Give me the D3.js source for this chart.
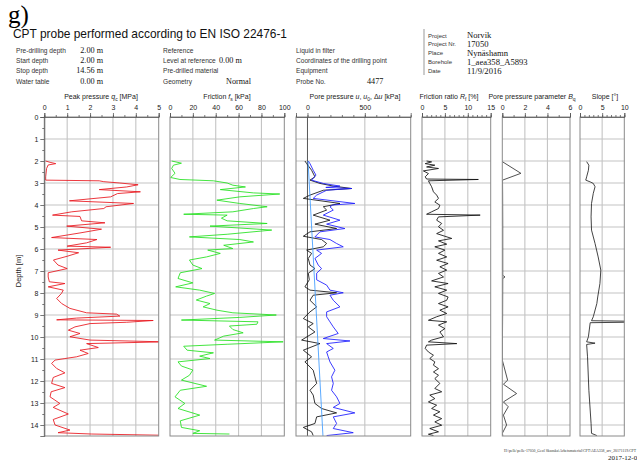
<!DOCTYPE html>
<html>
<head>
<meta charset="utf-8">
<script src="https://cdn.jsdelivr.net/npm/d3@7"></script>
<style>
  body { margin: 0; background: #fff; }
  svg { display: block; }
  .sans { font-family: "Liberation Sans", Arial, sans-serif; }
  .serif { font-family: "Liberation Serif", "Times New Roman", serif; }
  .axis text { font-family: "Liberation Sans", Arial, sans-serif; font-size: 7px; fill: #222; }
  .axis path, .axis line { stroke: #555; stroke-width: 0.8; }
</style>
</head>
<body>
<div id="chart"></div>
<script>
// ---- data (depth [m], value) ----
const qcProfile = [[2.0,0.06],[2.06,0.25],[2.12,0.5],[2.18,0.17],[2.34,0.1],[2.72,0.06],[2.87,0.06],[2.9,2.4],[2.94,2.6],[3.0,3.3],[3.08,4.1],[3.18,3.6],[3.3,2.4],[3.4,4.2],[3.48,3.2],[3.63,2.9],[3.81,1.1],[3.93,3.9],[4.08,2.7],[4.16,2.6],[4.31,1.2],[4.46,0.36],[4.52,1.56],[4.72,1.63],[4.81,2.65],[4.96,0.98],[5.1,2.5],[5.27,1.56],[5.48,0.32],[5.57,2.3],[5.72,1.85],[5.87,1.0],[5.92,2.9],[6.05,0.6],[6.17,1.5],[6.33,1.0],[6.5,0.4],[6.73,0.6],[6.89,1.0],[7.08,0.17],[7.27,0.17],[7.49,0.22],[7.57,0.9],[7.72,0.17],[7.87,0.83],[8.02,0.75],[8.25,0.54],[8.48,0.76],[8.7,1.12],[8.9,1.85],[8.96,3.16],[9.05,3.3],[9.14,1.41],[9.22,0.54],[9.25,4.76],[9.33,3.6],[9.39,2.0],[9.54,1.34],[9.69,1.05],[9.84,1.56],[9.99,1.12],[10.14,2.0],[10.22,5.2],[10.3,1.85],[10.48,2.36],[10.6,1.56],[10.75,1.92],[10.9,1.41],[10.98,0.9],[11.05,0.47],[11.2,0.32],[11.43,0.54],[11.63,0.9],[11.84,0.39],[12.11,0.32],[12.3,0.9],[12.49,0.3],[12.72,0.25],[13.02,0.68],[13.2,0.39],[13.5,1.05],[13.75,0.39],[14.0,0.47],[14.23,1.12],[14.35,0.6],[14.41,2.07],[14.47,5.4]];

const fsProfile = [[2.0,1.5],[2.1,10],[2.19,3],[2.34,1.5],[2.56,4.4],[2.75,0.6],[2.84,8.7],[2.9,38],[3.0,50],[3.1,55],[3.18,66],[3.3,44],[3.45,73],[3.5,96],[3.63,61],[3.78,41],[3.93,61],[4.08,85],[4.16,73],[4.31,55],[4.42,12],[4.46,50],[4.6,45],[4.72,50],[4.84,85],[4.96,35],[5.14,89],[5.33,50],[5.45,17],[5.57,61],[5.68,73],[5.83,47],[5.98,55],[6.05,33],[6.2,44],[6.36,32],[6.5,17],[6.73,20],[6.89,28],[7.08,9],[7.34,7],[7.54,20],[7.72,5],[7.87,26],[8.02,39],[8.14,32],[8.32,23],[8.48,35],[8.63,29],[8.78,41],[8.9,55],[9.0,93],[9.11,61],[9.23,10],[9.31,77],[9.42,76],[9.5,52],[9.66,55],[9.81,64],[9.96,47],[10.14,39],[10.22,99],[10.33,50],[10.42,12],[10.6,15],[10.72,38],[10.87,26],[10.98,35],[11.13,7],[11.32,10],[11.5,20],[11.74,17],[11.96,10],[12.24,32],[12.42,9],[12.72,4.4],[13.02,13],[13.25,7],[13.55,26],[13.81,9],[14.11,10],[14.26,26],[14.38,20],[14.41,52]];

const uProfile = [[2.0,7],[2.12,22],[2.42,50],[2.64,74],[2.87,36],[3.02,138],[3.14,283],[3.2,160],[3.25,385],[3.33,167],[3.55,80],[3.7,50],[3.93,413],[4.0,220],[4.08,196],[4.23,225],[4.46,138],[4.69,283],[4.87,167],[5.07,326],[5.22,109],[5.45,65],[5.57,196],[5.75,254],[5.9,312],[6.05,80],[6.2,123],[6.43,65],[6.73,94],[6.89,123],[7.1,80],[7.4,80],[7.64,167],[7.87,196],[7.99,312],[8.1,196],[8.33,225],[8.63,283],[8.86,167],[9.08,167],[9.31,196],[9.54,225],[9.84,268],[10.07,138],[10.18,370],[10.3,167],[10.52,225],[10.68,167],[10.9,181],[11.13,196],[11.51,239],[11.81,210],[12.11,225],[12.42,210],[12.72,254],[13.02,283],[13.2,225],[13.45,413],[13.63,225],[13.93,254],[14.16,225],[14.35,399],[14.48,167]];

const duProfile = [[2.0,-22],[2.12,-7],[2.42,36],[2.72,65],[2.87,22],[3.02,109],[3.14,225],[3.25,385],[3.33,138],[3.55,22],[3.7,-36],[3.93,283],[4.08,138],[4.23,167],[4.46,50],[4.69,196],[4.87,65],[5.07,254],[5.22,22],[5.42,-36],[5.57,123],[5.75,167],[5.9,138],[6.05,-7],[6.2,36],[6.43,7],[6.73,22],[6.89,65],[7.1,7],[7.4,16],[7.72,-22],[7.87,22],[7.99,254],[8.1,50],[8.33,22],[8.63,80],[8.86,22],[9.16,-36],[9.39,50],[9.54,7],[9.77,65],[10.14,-51],[10.3,109],[10.6,-36],[10.9,36],[11.13,-22],[11.51,50],[11.81,65],[12.11,80],[12.42,22],[12.64,50],[13.02,65],[13.25,123],[13.45,254],[13.63,80],[13.93,65],[14.11,-36],[14.31,36],[14.48,50]];

const u0Profile = [[2.0,5],[14.5,135]];

const rfProfile = [[2.0,1.0],[2.04,2.1],[2.12,0.7],[2.19,2.8],[2.27,1.0],[2.34,3.6],[2.45,0.3],[2.57,1.4],[2.72,0.7],[2.82,1.0],[2.84,12.3],[2.9,1.4],[3.02,1.7],[3.17,2.1],[3.4,2.5],[3.55,3.2],[3.7,3.6],[3.86,2.8],[4.01,3.9],[4.16,3.6],[4.31,2.1],[4.42,1.0],[4.46,12.7],[4.54,3.6],[4.69,3.2],[4.84,4.3],[4.99,3.6],[5.15,4.7],[5.3,3.2],[5.42,5.0],[5.52,6.5],[5.63,3.6],[5.78,5.4],[5.9,2.8],[6.05,5.0],[6.2,3.6],[6.36,5.4],[6.51,3.2],[6.66,5.7],[6.81,3.9],[6.96,5.4],[7.11,3.6],[7.27,4.7],[7.45,2.1],[7.57,5.7],[7.72,2.8],[7.87,5.4],[8.02,3.6],[8.18,5.7],[8.33,5.4],[8.48,3.6],[8.63,5.7],[8.78,3.9],[8.93,5.4],[9.08,3.2],[9.24,1.4],[9.31,5.4],[9.46,3.6],[9.62,5.0],[9.77,3.9],[9.99,4.7],[10.14,2.1],[10.22,1.4],[10.3,7.6],[10.37,1.0],[10.52,0.7],[10.68,1.4],[10.83,2.5],[10.98,1.7],[11.13,2.8],[11.28,2.5],[11.44,3.6],[11.59,2.5],[11.74,3.6],[11.89,2.8],[12.11,3.9],[12.34,2.8],[12.49,4.3],[12.64,1.7],[12.8,2.8],[12.95,1.4],[13.1,3.2],[13.25,2.1],[13.4,3.9],[13.55,2.5],[13.71,4.3],[13.86,2.8],[14.01,4.3],[14.16,1.7],[14.31,3.6],[14.42,1.4],[14.48,2.5]];

const bqProfile = [[2.0,0],[2.03,0],[2.56,1.65],[2.87,0.02],[3.5,0.03],[5.0,0.04],[7.2,0.04],[7.27,0.24],[7.34,0.04],[9.0,0.03],[11.05,0],[11.96,0.47],[12.15,0.1],[12.57,1.27],[12.95,0.1],[13.17,0.53],[13.55,0.1],[14.0,0.38],[14.38,0],[14.48,0.05]];

const slopeProfile = [[2.03,1.5],[2.19,2.0],[2.42,1.9],[2.72,1.5],[2.87,1.3],[2.95,2.3],[3.02,3.0],[3.17,3.4],[3.47,3.0],[3.93,2.6],[4.54,2.5],[5.14,2.6],[5.75,3.4],[6.36,4.1],[6.96,4.7],[7.57,4.5],[8.18,4.0],[8.48,3.8],[9.08,3.0],[9.26,2.6],[9.28,10.2],[9.33,10.2],[9.35,2.3],[9.99,1.9],[10.22,1.5],[10.28,3.4],[10.34,1.5],[10.9,1.7],[12.42,2.0],[13.93,2.5],[14.38,2.6],[14.48,3.8]];

// ---- tick labels ----
const depthTicks = [0,1,2,3,4,5,6,7,8,9,10,11,12,13,14];
const qcTicks = [0,1,2,3,4,5];
const fsTicks = [0,20,40,60,80,100];
const uTicks = [0,500];
const rfTicks = [0,5,10,15];
const bqTicks = [0,2,4,6];
const slopeTicks = [0,5,10];

const infoLeft = [["Pre-drilling depth","2.00 m"],["Start depth","2.00 m"],["Stop depth","14.56 m"],["Water table","0.00 m"]];
const infoMid = [["Reference",""],["Level at reference","0.00 m"],["Pre-drilled material",""],["Geometry","Normal"]];
const infoRight = [["Liquid in filter",""],["Coordinates of the drilling point",""],["Equipment",""],["Probe No.","4477"]];
const projectInfo = [["Project","Norvik"],["Project Nr.","17050"],["Place","Nynäshamn"],["Borehole","1_aea358_A5893"],["Date","11/9/2016"]];

const W = 637, H = 461;
const plotTop = 117, plotBottom = 436;

const svg = d3.select("#chart").append("svg")
    .attr("width", W).attr("height", H);

// header
svg.append("text").attr("class", "serif")
    .attr("x", 8).attr("y", 23).attr("font-size", 25).text("g)");
svg.append("text").attr("class", "sans")
    .attr("x", 13).attr("y", 38).attr("font-size", 13.5).attr("fill", "#111")
    .attr("textLength", 274).attr("lengthAdjust", "spacingAndGlyphs")
    .text("CPT probe performed according to EN ISO 22476-1");

function infoBlock(rows, xl, xv, anchor) {
    rows.forEach((r, i) => {
        const yy = 53 + i * 10.2;
        svg.append("text").attr("class", "sans").attr("x", xl).attr("y", yy)
            .attr("font-size", 6.6).attr("fill", "#333").text(r[0]);
        svg.append("text").attr("class", "serif")
            .attr("x", r[1] === "Normal" ? 251 : xv).attr("y", yy)
            .attr("font-size", 8.2).attr("text-anchor", r[1] === "Normal" ? "end" : anchor)
            .attr("fill", "#111").text(r[1]);
    });
}
infoBlock(infoLeft, 16, 103, "end");
infoBlock(infoMid, 163, 219, "start");
infoBlock(infoRight, 296, 367, "start");

svg.append("line").attr("x1", 424).attr("x2", 424).attr("y1", 29).attr("y2", 75)
    .attr("stroke", "#999").attr("stroke-width", 1);
projectInfo.forEach((r, i) => {
    const yy = 37.5 + i * 8.9;
    svg.append("text").attr("class", "sans").attr("x", 428).attr("y", yy)
        .attr("font-size", 6).attr("fill", "#333").text(r[0]);
    svg.append("text").attr("class", "serif").attr("x", 467).attr("y", yy + 0.5)
        .attr("font-size", 8.6).attr("fill", "#111").text(r[1]);
});

// depth scale shared by every panel
const y = d3.scaleLinear().domain([0, 14.5]).range([plotTop, plotBottom]);

const panels = [
    {x: [44.3, 158.7], domain: [0, 5], ticks: qcTicks, grid: [1,2,3,4], minorStep: 0.5,
     title: [["Peak pressure "], ["q", "i"], ["c", "sub"], [" [MPa]"]], tx: 101,
     series: [{data: qcProfile, color: "#e8141b"}]},
    {x: [170, 284.3], domain: [0, 100], ticks: fsTicks, grid: [20,40,60,80], minorStep: 10,
     title: [["Friction "], ["f", "i"], ["s", "sub"], [" [kPa]"]], tx: 227,
     series: [{data: fsProfile, color: "#22e01e"}]},
    {x: [296, 410.7], domain: [-100, 900], ticks: uTicks, grid: [500], minorStep: 100, zeroLine: true,
     title: [["Pore pressure "], ["u", "i"], [", "], ["u", "i"], ["0", "sub"], [", Δ"], ["u", "i"], [" [kPa]"]], tx: 355,
     series: [{data: duProfile, color: "#111"}, {data: uProfile, color: "#1a1aff"}, {data: u0Profile, color: "#3d9bff"}]},
    {x: [422, 490.7], domain: [0, 15], ticks: rfTicks, grid: [5,10], minorStep: 1,
     title: [["Friction ratio "], ["R", "i"], ["f", "sub"], [" [%]"]], tx: 449,
     series: [{data: rfProfile, color: "#111"}]},
    {x: [502.3, 570], domain: [0, 6], ticks: bqTicks, grid: [2,4], minorStep: 1,
     title: [["Pore pressure parameter "], ["B", "i"], ["q", "sub"]], tx: 532,
     series: [{data: bqProfile, color: "#333"}]},
    {x: [580, 624.3], domain: [0, 10], ticks: slopeTicks, grid: [5], minorStep: 1,
     title: [["Slope [°]"]], tx: 605,
     series: [{data: slopeProfile, color: "#222"}]}
];

panels.forEach((p, pi) => {
    const x = d3.scaleLinear().domain(p.domain).range(p.x);
    const g = svg.append("g");

    // grid
    g.selectAll(".hgrid").data(depthTicks.filter(d => d > 0)).enter().append("line")
        .attr("x1", p.x[0]).attr("x2", p.x[1])
        .attr("y1", d => y(d)).attr("y2", d => y(d))
        .attr("stroke", "#c4c4c4").attr("stroke-width", 1.1);
    g.selectAll(".vgrid").data(p.grid).enter().append("line")
        .attr("x1", d => x(d)).attr("x2", d => x(d))
        .attr("y1", plotTop).attr("y2", plotBottom)
        .attr("stroke", "#c4c4c4").attr("stroke-width", 1.1);
    if (p.zeroLine) {
        g.append("line").attr("x1", x(0)).attr("x2", x(0)).attr("y1", plotTop).attr("y2", plotBottom)
            .attr("stroke", "#444").attr("stroke-width", 0.9);
    }

    // data lines, clipped to the panel
    const clipId = "clip" + pi;
    svg.append("clipPath").attr("id", clipId).append("rect")
        .attr("x", p.x[0]).attr("y", plotTop).attr("width", p.x[1] - p.x[0]).attr("height", plotBottom - plotTop);
    const line = d3.line().x(d => x(d[1])).y(d => y(d[0]));
    p.series.forEach(s => {
        g.append("path").datum(s.data)
            .attr("clip-path", "url(#" + clipId + ")")
            .attr("d", line).attr("fill", "none")
            .attr("stroke", s.color).attr("stroke-width", 0.85)
            .attr("stroke-linejoin", "round");
    });

    // frame
    g.append("rect").attr("x", p.x[0]).attr("y", plotTop)
        .attr("width", p.x[1] - p.x[0]).attr("height", plotBottom - plotTop)
        .attr("fill", "none").attr("stroke", "#8a8a8a").attr("stroke-width", 1);

    // top axis: minor and major ticks
    const minor = d3.range(p.domain[0], p.domain[1] + 1e-9, p.minorStep);
    g.append("g").attr("class", "axis").attr("transform", "translate(0," + plotTop + ")")
        .call(d3.axisTop(x).tickValues(minor).tickSize(2).tickFormat(""))
        .select(".domain").remove();
    g.append("g").attr("class", "axis").attr("transform", "translate(0," + plotTop + ")")
        .call(d3.axisTop(x).tickValues(p.ticks).tickSize(4).tickPadding(3).tickFormat(d3.format("d")));

    // title
    const t = svg.append("text").attr("class", "sans").attr("x", p.tx).attr("y", 99)
        .attr("font-size", 7).attr("text-anchor", "middle").attr("fill", "#222");
    let prevSub = false;
    p.title.forEach(part => {
        const ts = t.append("tspan").text(part[0]);
        if (part[1] === "i") ts.attr("font-style", "italic");
        if (part[1] === "sub") {
            ts.attr("font-size", 5).attr("dy", 1.5);
            prevSub = true;
        } else {
            if (prevSub) ts.attr("dy", -1.5);
            prevSub = false;
        }
    });

    // depth axis on the first panel
    if (pi === 0) {
        svg.append("g").attr("class", "axis").attr("transform", "translate(" + p.x[0] + ",0)")
            .call(d3.axisLeft(y).tickValues(depthTicks.map(d => d + 0.5).filter(d => d < 14.5)).tickSize(2).tickFormat(""))
            .select(".domain").remove();
        svg.append("g").attr("class", "axis").attr("transform", "translate(" + p.x[0] + ",0)")
            .call(d3.axisLeft(y).tickValues(depthTicks).tickSize(4).tickPadding(2).tickFormat(d3.format("d")));
    }
});

svg.append("text").attr("class", "sans")
    .attr("transform", "translate(21,271) rotate(-90)")
    .attr("text-anchor", "middle").attr("font-size", 7.5).attr("fill", "#222")
    .text("Depth [m]");

// footer
svg.append("text").attr("class", "serif").attr("x", 636).attr("y", 452)
    .attr("text-anchor", "end").attr("font-size", 3.8).attr("fill", "#333")
    .text("H:\\pelle\\pelle-17050_Geol Skanska\\Arbetsmaterial\\CPT\\AEA358_arv_20171119.CPT");
svg.append("text").attr("class", "serif").attr("x", 608).attr("y", 460)
    .attr("font-size", 7).attr("fill", "#111").text("2017-12-08");
</script>
</body>
</html>
